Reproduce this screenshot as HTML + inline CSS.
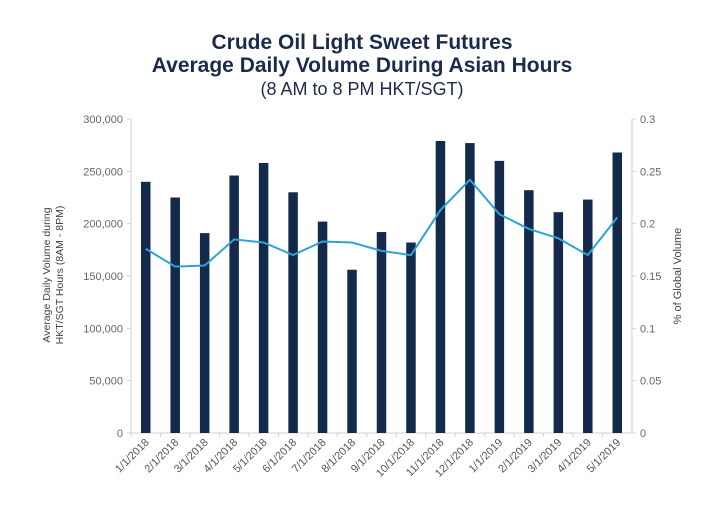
<!DOCTYPE html>
<html><head><meta charset="utf-8"><style>
body{margin:0;background:#fff;width:720px;height:500px;overflow:hidden;font-family:"Liberation Sans",sans-serif}
</style></head><body>
<svg width="720" height="500" font-family="Liberation Sans, sans-serif">
<text x="362" y="49" text-anchor="middle" font-size="21" font-weight="bold" fill="#1b2b4b">Crude Oil Light Sweet Futures</text>
<text x="362" y="72" text-anchor="middle" font-size="21" font-weight="bold" fill="#1b2b4b">Average Daily Volume During Asian Hours</text>
<text x="362" y="95" text-anchor="middle" font-size="18" fill="#1b2b4b">(8 AM to 8 PM HKT/SGT)</text>
<text transform="translate(50,275) rotate(-90)" text-anchor="middle" font-size="10.5" fill="#444">Average Daily Volume during</text>
<text transform="translate(63,275) rotate(-90)" text-anchor="middle" font-size="10.5" fill="#444">HKT/SGT Hours (8AM - 8PM)</text>
<text transform="translate(681,276) rotate(-90)" text-anchor="middle" font-size="11" fill="#444">% of Global Volume</text>
<g id="plot"></g>
</svg>
<script>
const categories=["1/1/2018","2/1/2018","3/1/2018","4/1/2018","5/1/2018","6/1/2018","7/1/2018","8/1/2018","9/1/2018","10/1/2018","11/1/2018","12/1/2018","1/1/2019","2/1/2019","3/1/2019","4/1/2019","5/1/2019"];
const volumes=[240000,225000,191000,246000,258000,230000,202000,156000,192000,182000,279000,277000,260000,232000,211000,223000,268000];
const shares=[0.176,0.159,0.160,0.185,0.182,0.170,0.183,0.182,0.174,0.170,0.213,0.242,0.209,0.195,0.186,0.170,0.206];
const leftTicks=[0,50000,100000,150000,200000,250000,300000];
const rightTicks=[0,0.05,0.1,0.15,0.2,0.25,0.3];
const NS="http://www.w3.org/2000/svg";
const g=document.getElementById('plot');
const X0=131,X1=632,Y0=433,Y1=119;
const band=(X1-X0)/categories.length;
const xc=i=>X0+band*(i+0.5);
const yL=v=>Y0-(v/300000)*(Y0-Y1);
const yR=v=>Y0-(v/0.3)*(Y0-Y1);
function el(t,a){const e=document.createElementNS(NS,t);for(const k in a)e.setAttribute(k,a[k]);g.appendChild(e);return e;}
let e;
e=el('line',{x1:X0,y1:Y1,x2:X0,y2:Y0,stroke:'#d0d0d0'});


e=el('line',{x1:X1,y1:Y1,x2:X1,y2:Y0,stroke:'#d0d0d0'});


e=el('line',{x1:X0,y1:Y0,x2:X1,y2:Y0,stroke:'#d0d0d0'});


leftTicks.forEach(v=>{
 el('line',{x1:X0-4,x2:X0,y1:yL(v),y2:yL(v),stroke:'#d0d0d0'});
 e=el('text',{x:X0-8,y:yL(v)+4,'text-anchor':'end','font-size':11,fill:'#666'});
 e.textContent=v.toLocaleString('en-US');
 
 
});
rightTicks.forEach(v=>{
 el('line',{x1:X1,x2:X1+4,y1:yR(v),y2:yR(v),stroke:'#d0d0d0'});
 e=el('text',{x:X1+8,y:yR(v)+4,'font-size':11,fill:'#666'});
 e.textContent=String(v);
 
 
});
categories.forEach((c,i)=>{
 el('line',{x1:X0+band*i,x2:X0+band*i,y1:Y0,y2:Y0+4,stroke:'#d0d0d0'});
 const bw=9.5;
 e=el('rect',{x:xc(i)-bw/2,y:yL(volumes[i]),width:bw,height:Y0-yL(volumes[i]),fill:'#132a4c'});
 
 
 e=el('text',{transform:`translate(${xc(i)+4},${Y0+10}) rotate(-45)`,'text-anchor':'end','font-size':11,fill:'#555'});
 e.textContent=c;
 
 
});
e=el('polyline',{points:shares.map((v,i)=>xc(i)+','+yR(v)).join(' '),fill:'none',stroke:'#2ea3d8','stroke-width':2});


</script>
</body></html>
